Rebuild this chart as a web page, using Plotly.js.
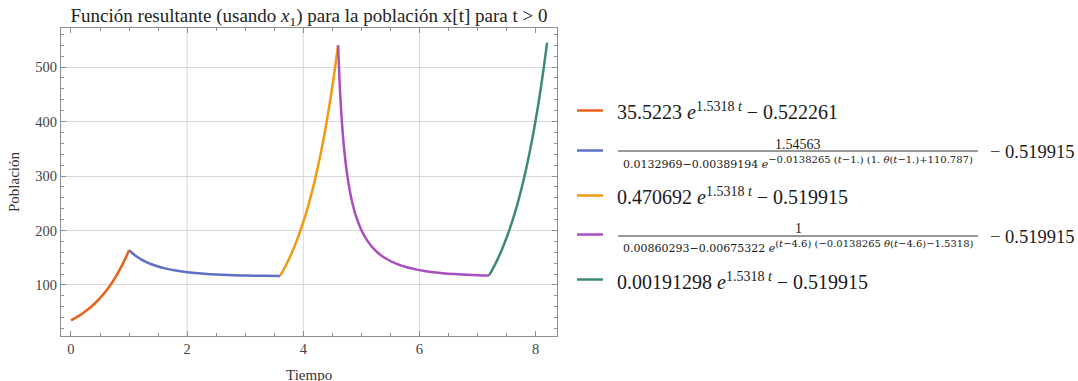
<!DOCTYPE html>
<html>
<head>
<meta charset="utf-8">
<script src="https://cdn.plot.ly/plotly-3.0.1.min.js"></script>
<style>
  html, body { margin: 0; padding: 0; background: #fff; }
  #chart { width: 1078px; height: 381px; }
</style>
</head>
<body>
<div id="chart"></div>
<script>
// Population x[t] piecewise solution, sampled values per stage
const tGrowth1 = [0, 0.1, 0.2, 0.3, 0.4, 0.5, 0.6, 0.7, 0.8, 0.9, 1.0];
const popGrowth1 = [35.00, 40.88, 47.73, 55.72, 65.03, 75.88, 88.53, 103.27, 120.45, 140.48, 163.81];

const tDecay1 = [1.0, 1.05, 1.1, 1.15, 1.2, 1.3, 1.4, 1.5, 1.6, 1.8, 2.0, 2.2, 2.4, 2.6, 2.8, 3.0, 3.3, 3.6];
const popDecay1 = [163.82, 159.01, 154.63, 150.89, 147.53, 141.95, 137.49, 133.88, 130.94, 126.52, 123.46, 121.30, 119.77, 118.66, 117.87, 117.29, 116.70, 116.34];

const tGrowth2 = [3.6, 3.7, 3.8, 3.9, 4.0, 4.1, 4.2, 4.3, 4.4, 4.5, 4.6];
const popGrowth2 = [116.33, 135.68, 158.22, 184.50, 215.12, 250.82, 292.42, 340.91, 397.43, 463.31, 540.09];

const tDecay2 = [4.6, 4.625, 4.65, 4.675, 4.7, 4.75, 4.8, 4.85, 4.9, 5.0, 5.1, 5.2, 5.3, 5.4, 5.6, 5.8, 6.0, 6.2, 6.4, 6.6, 6.9, 7.2];
const popDecay2 = [540.11, 474.40, 424.66, 385.75, 354.49, 307.44, 273.80, 248.60, 229.08, 200.94, 181.80, 168.07, 157.86, 150.04, 139.08, 132.00, 127.24, 123.96, 121.66, 120.02, 118.39, 117.38];

const tGrowth3 = [7.2, 7.3, 7.4, 7.5, 7.6, 7.7, 7.8, 7.9, 8.0, 8.1, 8.2];
const popGrowth3 = [117.38, 136.90, 159.65, 186.16, 217.06, 253.08, 295.06, 343.98, 401.01, 467.47, 544.94];

const seriesColors = ['#E8621A', '#5F70C6', '#F09A12', '#AA4DBE', '#3D8C6E'];

// Axis ticks and grid
const xTickVals = [0, 2, 4, 6, 8];
const yTickVals = [100, 200, 300, 400, 500];
const xGridVals = [2, 4, 6];

// Legend expressions
const legendSimple = [
  '35.5223 <i>e</i><sup>1.5318 <i>t</i></sup> − 0.522261',
  '0.470692 <i>e</i><sup>1.5318 <i>t</i></sup> − 0.519915',
  '0.00191298 <i>e</i><sup>1.5318 <i>t</i></sup> − 0.519915'
];
const legendNumerators = ['1.54563', '1'];
const legendDenomBase = ['0.0132969−0.00389194 ', '0.00860293−0.00675322 '];
const legendDenomExp = [
  '−0.0138265 (<i>t</i>−1.) (1. <i>θ</i>(<i>t</i>−1.)+110.787)',
  '(<i>t</i>−4.6) (−0.0138265 <i>θ</i>(<i>t</i>−4.6)−1.5318)'
];
const legendTail = '− 0.519915';

const W = 1078, H = 381;
const M = { l: 61, r: 521, t: 28, b: 45 };
const PW = W - M.l - M.r, PH = H - M.t - M.b;
const px = x => (x - M.l) / PW;
const py = y => (H - M.b - y) / PH;

const serif = 'Liberation Serif, Times New Roman, serif';
const smallSerif = 'DejaVu Serif, serif';
const segs = [
  [tGrowth1, popGrowth1], [tDecay1, popDecay1], [tGrowth2, popGrowth2],
  [tDecay2, popDecay2], [tGrowth3, popGrowth3]
];

const traces = segs.map((s, i) => ({
  x: s[0], y: s[1], type: 'scatter', mode: 'lines',
  line: { color: seriesColors[i], width: 2.5, shape: 'spline', smoothing: 0.8 },
  showlegend: false, hoverinfo: 'skip'
}));

const shapes = [];
const annotations = [];

xGridVals.forEach(v => shapes.push({
  type: 'line', xref: 'x', yref: 'paper', x0: v, x1: v, y0: 0, y1: 1,
  line: { color: '#d8d8d8', width: 1 }, layer: 'below'
}));

// x-axis caption sits low, its descenders reaching the bottom edge
annotations.push({
  xref: 'paper', yref: 'paper', x: 0.5, y: py(375), xanchor: 'center', yanchor: 'middle',
  text: 'Tiempo', showarrow: false, font: { family: serif, size: 15, color: '#333' }
});

// Legend swatches
const swatchY = [110.5, 150.5, 195.5, 234.5, 279.5];
swatchY.forEach((y, i) => shapes.push({
  type: 'line', xref: 'paper', yref: 'paper',
  x0: px(577), x1: px(603), y0: py(y), y1: py(y),
  line: { color: seriesColors[i], width: 2.5 }
}));

const txtColor = '#1a1a1a';
const big = 20;
[[0, 111.5], [1, 196], [2, 280.5]].forEach(([k, y]) => annotations.push({
  xref: 'paper', yref: 'paper', x: px(615), y: py(y), xanchor: 'left', yanchor: 'middle',
  text: legendSimple[k], showarrow: false, font: { family: serif, size: big, color: txtColor }
}));

// Fraction entries
const fracY = [{ num: 144, bar: 151, den: 162 }, { num: 228, bar: 236, den: 246 }];
fracY.forEach((f, k) => {
  annotations.push({
    xref: 'paper', yref: 'paper', x: px(798), y: py(f.num), xanchor: 'center', yanchor: 'middle',
    text: legendNumerators[k], showarrow: false, font: { family: serif, size: 14, color: txtColor }
  });
  annotations.push({
    xref: 'paper', yref: 'paper', x: px(798), y: py(f.den), xanchor: 'center', yanchor: 'middle',
    text: legendDenomBase[k] + '<i>e</i><sup><span style="font-size:10px">' + legendDenomExp[k] + '</span></sup>',
    showarrow: false, font: { family: smallSerif, size: 11, color: txtColor }
  });
  shapes.push({
    type: 'line', xref: 'paper', yref: 'paper', x0: px(618), x1: px(978), y0: py(f.bar), y1: py(f.bar),
    line: { color: '#333', width: 1 }
  });
  annotations.push({
    xref: 'paper', yref: 'paper', x: px(988), y: py(f.bar + 1), xanchor: 'left', yanchor: 'middle',
    text: legendTail, showarrow: false, font: { family: serif, size: 18.5, color: txtColor }
  });
});

const axisCommon = {
  showline: true, linecolor: '#8f8f8f', linewidth: 1, mirror: 'ticks',
  ticks: 'inside', ticklen: 5, tickcolor: '#8f8f8f', tickwidth: 1,
  showgrid: false, zeroline: false, fixedrange: true,
  tickfont: { family: serif, size: 14.5, color: '#444' }
};

const layout = {
  width: W, height: H, margin: M,
  paper_bgcolor: '#fff', plot_bgcolor: '#fff',
  title: {
    text: 'Función resultante (usando <i>x</i><sub>1</sub>) para la población x[t] para t > 0',
    font: { family: serif, size: 19, color: '#222' },
    x: 0.5, xref: 'paper', xanchor: 'center', y: 1 - 15 / H, yref: 'container', yanchor: 'middle'
  },
  xaxis: Object.assign({}, axisCommon, {
    range: [-0.172, 8.37], tickvals: xTickVals,
    minor: { ticks: 'inside', dtick: 0.5, tick0: 0, ticklen: 3, tickcolor: '#8f8f8f', showgrid: false }
  }),
  yaxis: Object.assign({}, axisCommon, {
    range: [6.3, 571.7], tickvals: yTickVals,
    showgrid: true, gridcolor: '#d8d8d8', gridwidth: 1,
    minor: { ticks: 'inside', dtick: 20, tick0: 0, ticklen: 3, tickcolor: '#8f8f8f', showgrid: false },
    title: { text: 'Población', font: { family: serif, size: 15, color: '#333' }, standoff: 12 }
  }),
  shapes: shapes,
  annotations: annotations,
  showlegend: false
};

Plotly.newPlot('chart', traces, layout, { staticPlot: true, displayModeBar: false });
</script>
</body>
</html>
